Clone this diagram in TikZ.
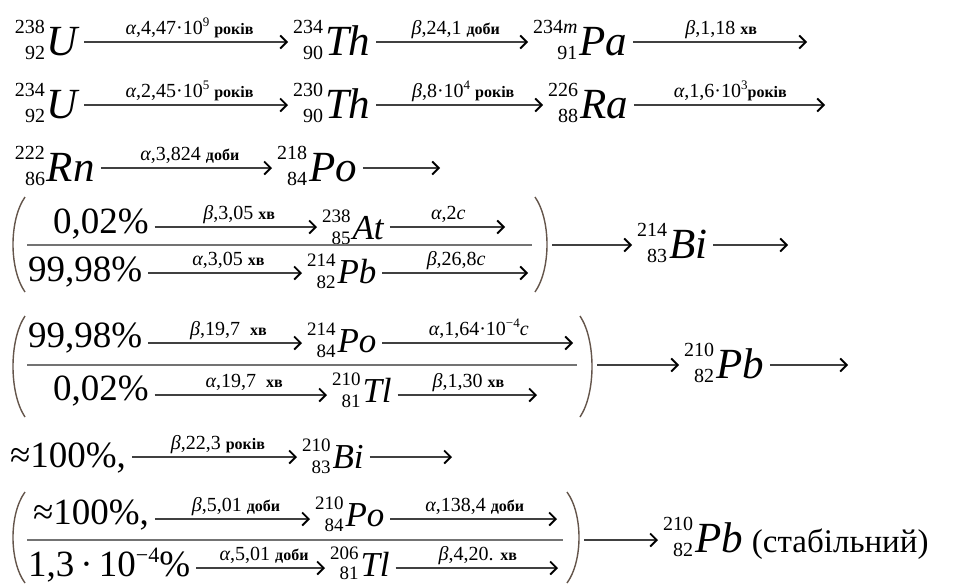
\documentclass[tikz,border=0pt]{standalone}
\usepackage{fontspec}
\setmainfont{Liberation Serif}
\usetikzlibrary{arrows.meta}
\definecolor{parencol}{RGB}{100,85,75}
% generic nuclide: #1 symbol size, #2 number size, #3 raise, #4 lower, #5 mass, #6 charge, #7 symbol
\newcommand\nucG[7]{%
  \setbox0\hbox{\fontsize{#2}{#2}\selectfont #5}%
  \setbox2\hbox{\fontsize{#2}{#2}\selectfont #6}%
  \ifdim\wd0>\wd2 \dimen0=\wd0 \else \dimen0=\wd2 \fi
  \hbox to\dimen0{\hss\raise#3pt\box0}\kern-\dimen0
  \hbox to\dimen0{\hss\lower#4pt\box2}\kern2pt
  {\fontsize{#1}{#1}\selectfont\itshape #7}}
\newcommand\nucB[3]{\nucG{43}{20}{22}{4}{#1}{#2}{#3}}
\newcommand\nucS[3]{\nucG{35}{19}{17}{5}{#1}{#2}{#3}}
\newcommand\ua[1]{\raisebox{8pt}{\fontsize{13}{13}\selectfont #1}}
\newcommand\un[1]{{\fontsize{16}{16}\selectfont\bfseries #1}}
\newcommand\gr[1]{\textit{#1}}
\tikzset{
  nuc/.style={anchor=base west, inner sep=0pt, outer sep=0pt},
  pct/.style={anchor=base west, inner sep=0pt, outer sep=0pt, font=\fontsize{37}{37}\selectfont},
  arr/.style={draw=black!75, line width=1.6pt,
    -{Straight Barb[length=6.5pt,width=13pt,line width=1.8pt,color=black]},
    shorten <=6pt, shorten >=5pt},
  free/.style={shorten >=0pt},
  lab/.style={midway, anchor=base, yshift=8pt, xshift=4pt, inner sep=0pt, font=\fontsize{20}{20}\selectfont},
  frac/.style={draw=black!55, line width=2.2pt},
  paren/.style={draw=parencol, line width=1.4pt},
}
\begin{document}
\begin{tikzpicture}[x=1pt,y=-1pt]
\useasboundingbox (0,0) rectangle (967,584);
% ---------- row 1
\coordinate (a1) at (0,42);
\node[nuc] (u238) at (15,55) {\nucB{238}{92}{U}};
\node[nuc] (th234) at (293,55) {\nucB{234}{90}{Th}};
\node[nuc] (pa234) at (533,55) {\nucB{234\textit{m}}{91}{Pa}};
\coordinate (e1) at (807,42);
\draw[arr] (u238.east |- a1) -- (th234.west |- a1) node[lab] {\gr{α},4,47·10\ua{9} \un{років}};
\draw[arr] (th234.east |- a1) -- (pa234.west |- a1) node[lab] {\gr{β},24,1 \un{доби}};
\draw[arr,free] (pa234.east |- a1) -- (e1) node[lab] {\gr{β},1,18 \un{хв}};
% ---------- row 2
\coordinate (a2) at (0,105);
\node[nuc] (u234) at (15,118) {\nucB{234}{92}{U}};
\node[nuc] (th230) at (293,118) {\nucB{230}{90}{Th}};
\node[nuc] (ra226) at (548,118) {\nucB{226}{88}{Ra}};
\coordinate (e2) at (825,105);
\draw[arr] (u234.east |- a2) -- (th230.west |- a2) node[lab] {\gr{α},2,45·10\ua{5} \un{років}};
\draw[arr] (th230.east |- a2) -- (ra226.west |- a2) node[lab] {\gr{β},8·10\ua{4} \un{років}};
\draw[arr,free] (ra226.east |- a2) -- (e2) node[lab] {\gr{α},1,6·10\ua{3}\un{років}};
% ---------- row 3
\coordinate (a3) at (0,168);
\node[nuc] (rn222) at (15,181) {\nucB{222}{86}{Rn}};
\node[nuc] (po218) at (277,181) {\nucB{218}{84}{Po}};
\coordinate (e3) at (440,168);
\draw[arr] (rn222.east |- a3) -- (po218.west |- a3) node[lab] {\gr{α},3,824 \un{доби}};
\draw[arr,free] (po218.east |- a3) -- (e3);
% ---------- bracket 1
\coordinate (a4) at (0,227);
\coordinate (a5) at (0,273);
\node[pct] (p1) at (53,233) {0,02\%};
\node[nuc] (at238) at (322,239) {\nucS{238}{85}{At}};
\coordinate (e4) at (505,227);
\node[pct] (p2) at (28,281) {99,98\%};
\node[nuc] (pb214) at (307,283) {\nucS{214}{82}{Pb}};
\coordinate (e5) at (528,273);
\draw[arr] (p1.east |- a4) -- (at238.west |- a4) node[lab] {\gr{β},3,05 \un{хв}};
\draw[arr,free] (at238.east |- a4) -- (e4) node[lab] {\gr{α},2\gr{c}};
\draw[arr] (p2.east |- a5) -- (pb214.west |- a5) node[lab] {\gr{α},3,05 \un{хв}};
\draw[arr,free] (pb214.east |- a5) -- (e5) node[lab] {\gr{β},26,8\gr{c}};
\draw[frac] (27,245) -- (532,245);
\draw[paren] (25,197) .. controls (9,220) and (9,269) .. (25,292);
\draw[paren] (535,197) .. controls (551,220) and (551,269) .. (535,292);
\coordinate (rp1) at (550,245);
\node[nuc] (bi214) at (637,258) {\nucB{214}{83}{Bi}};
\coordinate (e6) at (788,245);
\draw[arr,shorten <=2pt] (rp1) -- (bi214.west |- rp1);
\draw[arr,free] (bi214.east |- rp1) -- (e6);
% ---------- bracket 2
\coordinate (a7) at (0,343);
\coordinate (a8) at (0,395);
\node[pct] (p3) at (28,347) {99,98\%};
\node[nuc] (po214) at (307,352) {\nucS{214}{84}{Po}};
\coordinate (e7) at (573,343);
\node[pct] (p4) at (53,400) {0,02\%};
\node[nuc] (tl210) at (332,402) {\nucS{210}{81}{Tl}};
\coordinate (e8) at (537,395);
\draw[arr] (p3.east |- a7) -- (po214.west |- a7) node[lab] {\gr{β},19,7 \ \un{хв}};
\draw[arr,free] (po214.east |- a7) -- (e7) node[lab] {\gr{α},1,64·10\ua{−4}\gr{c}};
\draw[arr] (p4.east |- a8) -- (tl210.west |- a8) node[lab] {\gr{α},19,7 \ \un{хв}};
\draw[arr,free] (tl210.east |- a8) -- (e8) node[lab] {\gr{β},1,30 \un{хв}};
\draw[frac] (27,365) -- (577,365);
\draw[paren] (25,316) .. controls (9,340) and (9,393) .. (25,417);
\draw[paren] (580,316) .. controls (596,340) and (596,393) .. (580,417);
\coordinate (rp2) at (595,365);
\node[nuc] (pb210a) at (684,378) {\nucB{210}{82}{Pb}};
\coordinate (e9) at (848,365);
\draw[arr,shorten <=2pt] (rp2) -- (pb210a.west |- rp2);
\draw[arr,free] (pb210a.east |- rp2) -- (e9);
% ---------- approx 100% row
\coordinate (a10) at (0,457);
\node[pct] (p5) at (10,467) {≈100\%,};
\node[nuc] (bi210) at (302,468) {\nucS{210}{83}{Bi}};
\coordinate (e10) at (452,457);
\draw[arr] (p5.east |- a10) -- (bi210.west |- a10) node[lab] {\gr{β},22,3 \un{років}};
\draw[arr,free] (bi210.east |- a10) -- (e10);
% ---------- bracket 3
\coordinate (a11) at (0,519);
\coordinate (a12) at (0,568);
\node[pct] (p6) at (33,524) {≈100\%,};
\node[nuc] (po210) at (315,526) {\nucS{210}{84}{Po}};
\coordinate (e11) at (557,519);
\node[pct] (p7) at (28,576) {1,3\,·\,10\raisebox{14pt}{\fontsize{22}{22}\selectfont −4}\%};
\node[nuc] (tl206) at (330,576) {\nucG{35}{19}{17}{3}{206}{81}{Tl}};
\coordinate (e12) at (558,568);
\draw[arr] (p6.east |- a11) -- (po210.west |- a11) node[lab] {\gr{β},5,01 \un{доби}};
\draw[arr,free] (po210.east |- a11) -- (e11) node[lab] {\gr{α},138,4 \un{доби}};
\draw[arr] (p7.east |- a12) -- (tl206.west |- a12) node[lab] {\gr{α},5,01 \un{доби}};
\draw[arr,free] (tl206.east |- a12) -- (e12) node[lab] {\gr{β},4,20. \un{хв}};
\draw[frac] (27,540) -- (563,540);
\draw[paren] (25,492) .. controls (9,514) and (9,561) .. (25,583);
\draw[paren] (567,492) .. controls (583,514) and (583,561) .. (567,583);
\coordinate (rp3) at (582,540);
\node[nuc] (pb210b) at (663,552) {\nucB{210}{82}{Pb}};
\node[anchor=base west, inner sep=0pt, font=\fontsize{33}{33}\selectfont] (stab) at ([xshift=9pt]pb210b.base east) {(стабільний)};
\draw[arr,shorten <=2pt] (rp3) -- (pb210b.west |- rp3);
\end{tikzpicture}
\end{document}
